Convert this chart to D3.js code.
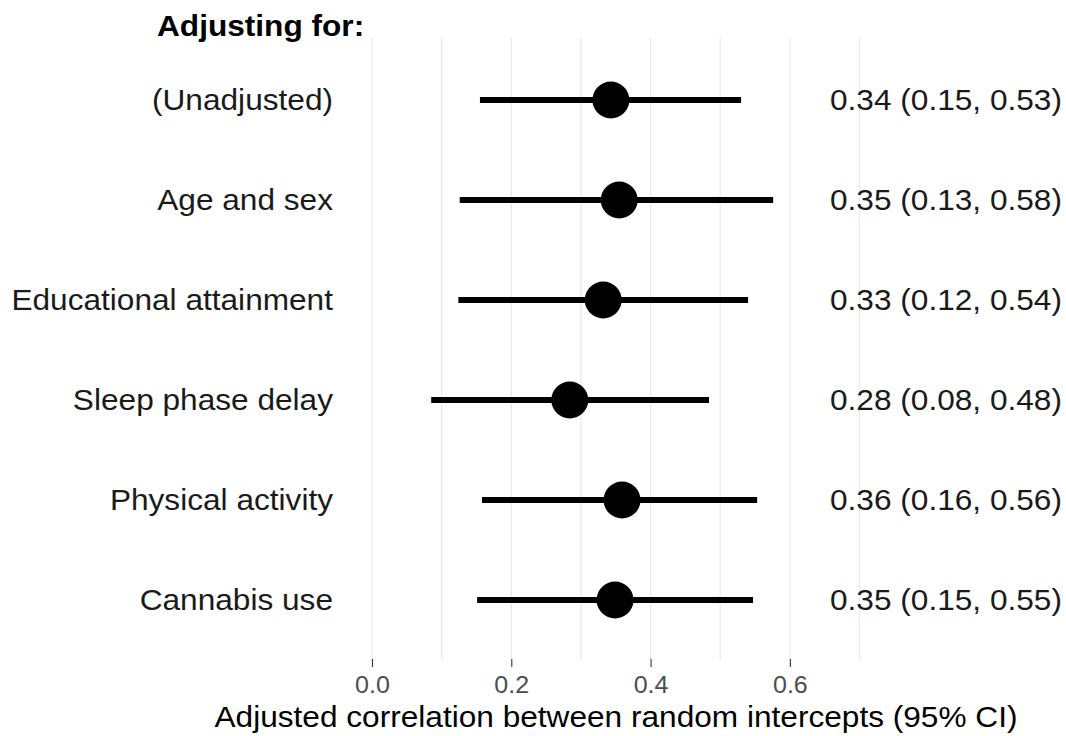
<!DOCTYPE html>
<html>
<head>
<meta charset="utf-8">
<script src="https://cdn.jsdelivr.net/npm/d3@7"></script>
<style>
  html, body { margin: 0; padding: 0; background: #fff; }
  svg { display: block; font-family: "Liberation Sans", Arial, Helvetica, sans-serif; }
</style>
</head>
<body>
<svg id="chart" width="1066" height="736"></svg>
<script>
// ---- Data -----------------------------------------------------------------
const covariates = ["(Unadjusted)", "Age and sex", "Educational attainment",
  "Sleep phase delay", "Physical activity", "Cannabis use"];
const estimate = [0.343, 0.355, 0.332, 0.284, 0.359, 0.349];
const lower    = [0.155, 0.126, 0.124, 0.085, 0.158, 0.151];
const upper    = [0.530, 0.576, 0.540, 0.484, 0.553, 0.547];
const ciText   = ["0.34 (0.15, 0.53)", "0.35 (0.13, 0.58)", "0.33 (0.12, 0.54)",
  "0.28 (0.08, 0.48)", "0.36 (0.16, 0.56)", "0.35 (0.15, 0.55)"];
const majorTicks = [0, 0.2, 0.4, 0.6];
const gridTicks  = [0, 0.1, 0.2, 0.3, 0.4, 0.5, 0.6, 0.7];

const svg = d3.select("#chart");
const BASE = 29, SMALL = 23;
const WIDEN = 1.09; // reference text renders a bit wider than Arial metrics

// stretch text so widths match the reference
const widen = (sel) => sel.each(function () {
  const w = this.getComputedTextLength();
  d3.select(this).attr("textLength", w * WIDEN).attr("lengthAdjust", "spacingAndGlyphs");
});

// ---- Scales ----------------------------------------------------------------
const x = d3.scaleLinear().domain([0, 0.7]).range([372, 859.5]);
const y = d3.scalePoint().domain(covariates).range([100, 600]);
const PANEL_TOP = 38, PANEL_BOT = 660;

// ---- Gridlines -------------------------------------------------------------
svg.append("g")
  .selectAll("line")
  .data(gridTicks)
  .join("line")
  .attr("x1", (d) => x(d)).attr("x2", (d) => x(d))
  .attr("y1", PANEL_TOP).attr("y2", PANEL_BOT)
  .attr("stroke", "#e8e8e8").attr("stroke-width", 1.2);

// ---- x axis (ticks + labels) -----------------------------------------------
const xAxis = svg.append("g")
  .attr("transform", `translate(0,${PANEL_BOT - 1})`)
  .call(d3.axisBottom(x).tickValues(majorTicks).tickFormat(d3.format(".1f")).tickSize(8).tickPadding(0));
xAxis.select(".domain").remove();
xAxis.selectAll(".tick line").attr("stroke", "#333").attr("stroke-width", 1.1);
xAxis.selectAll(".tick text")
  .attr("y", 34).attr("dy", null)
  .attr("fill", "#4d4d4d")
  .style("font-size", SMALL + "px")
  .style("font-family", "'Liberation Sans', Arial, sans-serif")
  .call(widen);

svg.append("text")
  .attr("x", 616).attr("y", 727)
  .attr("text-anchor", "middle")
  .attr("fill", "#000")
  .style("font-size", BASE + "px")
  .text("Adjusted correlation between random intercepts (95% CI)")
  .call(widen);

// ---- Title -----------------------------------------------------------------
svg.append("text")
  .attr("x", 157).attr("y", 36)
  .attr("fill", "#000")
  .style("font-size", BASE + "px").style("font-weight", "bold")
  .text("Adjusting for:")
  .call(widen);

// ---- Row labels ------------------------------------------------------------
svg.append("g")
  .selectAll("text")
  .data(covariates)
  .join("text")
  .attr("x", 333)
  .attr("y", (d) => y(d) + 10)
  .attr("text-anchor", "end")
  .attr("fill", "#1a1a1a")
  .style("font-size", BASE + "px")
  .text((d) => d)
  .call(widen);

// ---- CI segments + points --------------------------------------------------
const rows = covariates.map((c, i) => ({ c, est: estimate[i], lo: lower[i], hi: upper[i], txt: ciText[i] }));

svg.append("g")
  .selectAll("line")
  .data(rows)
  .join("line")
  .attr("x1", (d) => x(d.lo)).attr("x2", (d) => x(d.hi))
  .attr("y1", (d) => y(d.c)).attr("y2", (d) => y(d.c))
  .attr("stroke", "#000").attr("stroke-width", 6);

svg.append("g")
  .selectAll("circle")
  .data(rows)
  .join("circle")
  .attr("cx", (d) => x(d.est))
  .attr("cy", (d) => y(d.c))
  .attr("r", 18.5)
  .attr("fill", "#000");

// ---- Right-hand estimate text ----------------------------------------------
svg.append("g")
  .selectAll("text")
  .data(rows)
  .join("text")
  .attr("x", 830)
  .attr("y", (d) => y(d.c) + 10)
  .attr("fill", "#1a1a1a")
  .style("font-size", BASE + "px")
  .text((d) => d.txt)
  .call(widen);
</script>
</body>
</html>
